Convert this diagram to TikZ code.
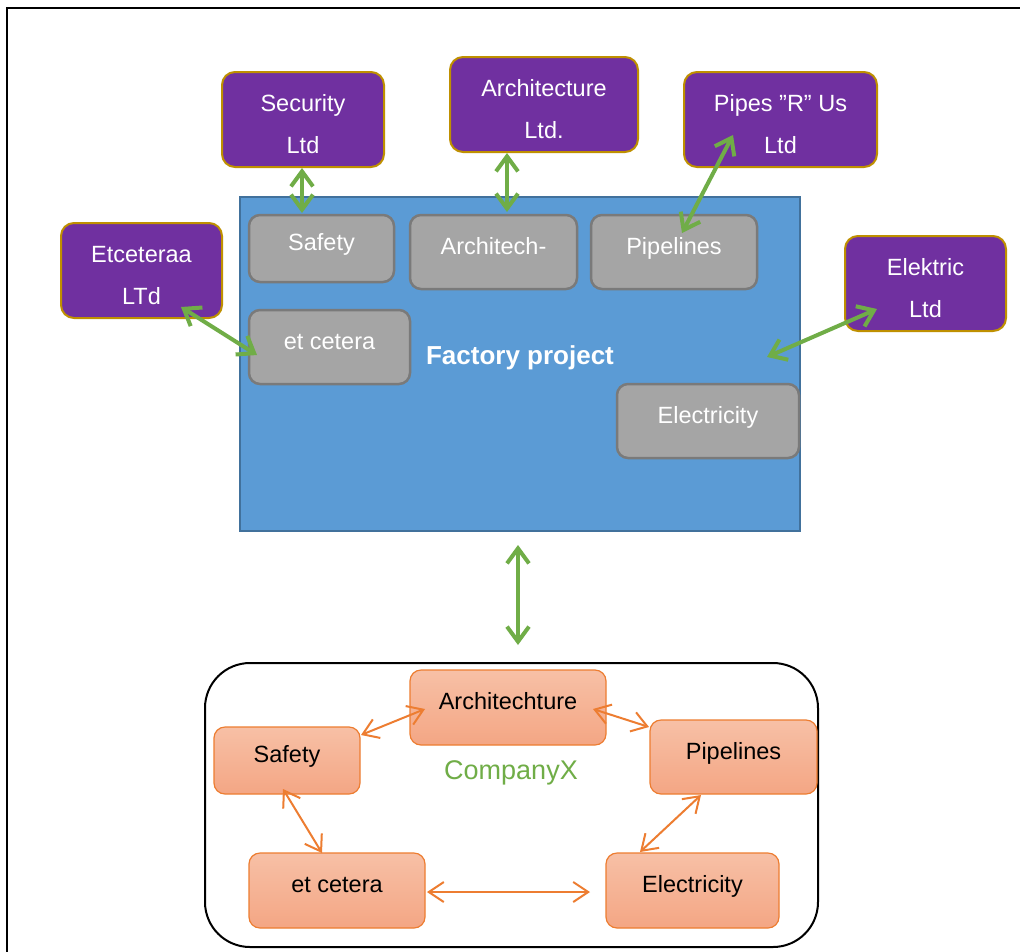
\documentclass[tikz,border=0pt]{standalone}
\usepackage{fontspec}
\setmainfont{Liberation Sans}
\usetikzlibrary{arrows.meta,calc}

\definecolor{partner}{RGB}{112,48,160}
\definecolor{gold}{RGB}{191,144,0}
\definecolor{project}{RGB}{91,155,213}
\definecolor{projectedge}{RGB}{65,113,156}
\definecolor{dept}{RGB}{165,165,165}
\definecolor{deptedge}{RGB}{122,122,122}
\definecolor{leaf}{RGB}{112,173,71}
\definecolor{tang}{RGB}{237,125,49}
\definecolor{peachtop}{RGB}{247,192,166}
\definecolor{peachbot}{RGB}{244,166,132}

\tikzset{
  txt/.style={font=\fontsize{23.5}{42}\selectfont},
  partnerbox/.style={txt, draw=gold, fill=partner, line width=2pt, rounded corners=13pt,
    text=white, align=center, inner sep=0pt, text height=67pt, text depth=0pt},
  deptbox/.style={txt, draw=deptedge, fill=dept, line width=2.5pt, rounded corners=11pt,
    text=white, inner sep=0pt, text height=17pt, text depth=13pt},
  unitbox/.style={txt, draw=tang, top color=peachtop, bottom color=peachbot, line width=1.2pt,
    rounded corners=11pt, text=black, inner sep=0pt, text height=17pt, text depth=13pt},
  garrow/.style={draw=leaf, line width=4pt,
    {Straight Barb[length=15pt,width=22pt]}-{Straight Barb[length=15pt,width=22pt]}},
  oarrow/.style={draw=tang, line width=2pt,
    {Straight Barb[length=15pt,width=20pt]}-{Straight Barb[length=15pt,width=20pt]}},
}

\begin{document}
\begin{tikzpicture}[x=1pt,y=-1pt]
  \useasboundingbox (0,0) rectangle (1020,951);
  \fill[white] (0,0) rectangle (1020,951);

  % page frame (top and left edges)
  \draw[line width=2.5pt, line cap=rect] (1020,8) -- (7,8) -- (7,951);

  % the project
  \node[draw=projectedge, fill=project, line width=2pt, minimum width=560pt, minimum height=334pt,
        inner sep=0pt] (project) at (520,364) {};
  \node[font=\fontsize{26}{30}\selectfont\bfseries, text=white] (projtitle) at (520,358) {Factory project};

  % departments inside the project
  \node[deptbox, minimum width=145pt, minimum height=67pt] (safetyg) at (321.5,248.5) {Safety};
  \node[deptbox, minimum width=167pt, minimum height=74pt] (archg) at (493.5,252) {Architech-};
  \node[deptbox, minimum width=166pt, minimum height=74pt] (pipeg) at (674,252) {Pipelines};
  \node[deptbox, minimum width=161pt, minimum height=74pt] (etcg) at (329.5,347) {et cetera};
  \node[deptbox, minimum width=182pt, minimum height=74pt] (elecg) at (708,421) {Electricity};

  % partner companies
  \node[partnerbox, minimum width=162pt, minimum height=95pt] (security) at (303,119.5) {Security\\Ltd};
  \node[partnerbox, minimum width=188pt, minimum height=95pt] (archltd) at (544,104.5) {Architecture\\Ltd.};
  \node[partnerbox, minimum width=193pt, minimum height=95pt] (pipes) at (780.5,119.5) {Pipes ”R” Us\\Ltd};
  \node[partnerbox, minimum width=161pt, minimum height=95pt] (etcltd) at (141.5,270.5) {Etceteraa\\LTd};
  \node[partnerbox, minimum width=161pt, minimum height=95pt] (elektric) at (925.5,283.5) {Elektric\\Ltd};

  % arrow end points
  \coordinate (secA) at (302,168);   \coordinate (secB) at (302,213);
  \coordinate (arcA) at (507,153);   \coordinate (arcB) at (507,212);
  \coordinate (pipA) at (733,135);   \coordinate (pipB) at (682,233);
  \coordinate (etcA) at (181,307);   \coordinate (etcB) at (257,355);
  \coordinate (eleA) at (877,309);   \coordinate (eleB) at (767,357);
  \coordinate (linkA) at (518,545);  \coordinate (linkB) at (518,645);

  \draw[garrow] (secA) -- (secB);
  \draw[garrow] (arcA) -- (arcB);
  \draw[garrow] (pipA) -- (pipB);
  \draw[garrow] (etcA) -- (etcB);
  \draw[garrow] (eleA) -- (eleB);
  \draw[garrow] (linkA) -- (linkB);

  % CompanyX
  \node[draw=black, line width=2pt, rounded corners=45pt, minimum width=613pt, minimum height=284pt,
        inner sep=0pt] (companyx) at (511.5,805) {};
  \node[font=\fontsize{27}{30}\selectfont, text=leaf] (cxname) at (511,773) {CompanyX};

  \node[unitbox, minimum width=196pt, minimum height=75pt] (archo) at (508,707.5) {Architechture};
  \node[unitbox, minimum width=146pt, minimum height=67pt] (safeo) at (287,760.5) {Safety};
  \node[unitbox, minimum width=167pt, minimum height=74pt] (pipeo) at (733.5,757) {Pipelines};
  \node[unitbox, minimum width=176pt, minimum height=75pt] (etco) at (337,890.5) {et cetera};
  \node[unitbox, minimum width=173pt, minimum height=75pt] (eleco) at (692.5,890.5) {Electricity};

  \coordinate (saA) at (361,735);  \coordinate (saB) at (425,709);
  \coordinate (apA) at (593,709);  \coordinate (apB) at (649,727);
  \coordinate (peA) at (701,795);  \coordinate (peB) at (640,852);
  \coordinate (seA) at (283,789);  \coordinate (seB) at (322,853);
  \coordinate (eeA) at (427,892);  \coordinate (eeB) at (590,892);

  \draw[oarrow] (saA) -- (saB);
  \draw[oarrow] (apA) -- (apB);
  \draw[oarrow] (peA) -- (peB);
  \draw[oarrow] (seA) -- (seB);
  \draw[oarrow] (eeA) -- (eeB);
\end{tikzpicture}
\end{document}
